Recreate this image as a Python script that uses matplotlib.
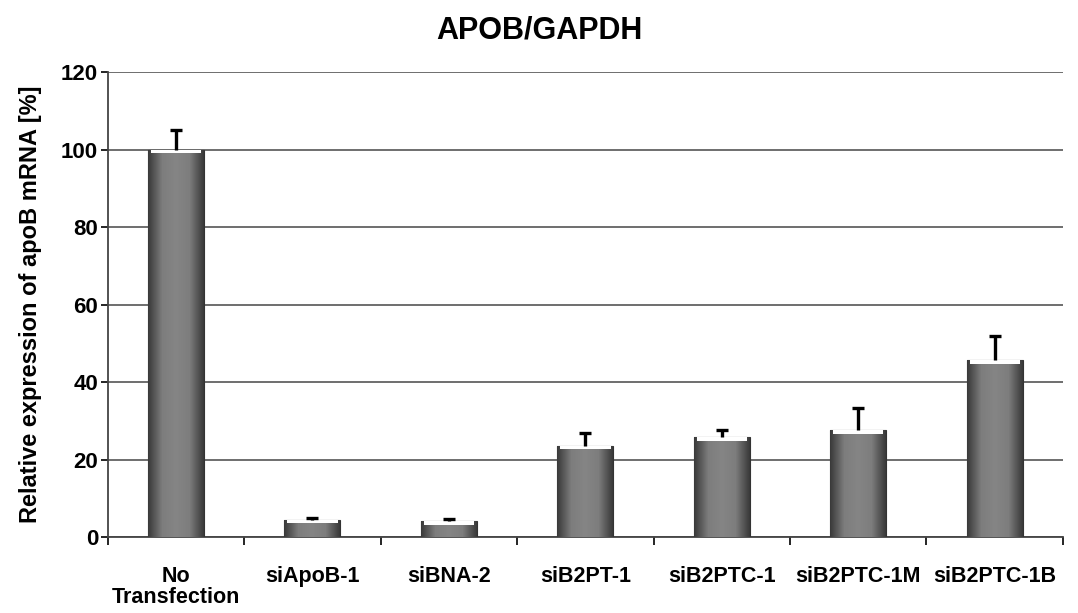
import numpy as np
import matplotlib.pyplot as plt
from matplotlib.colors import LinearSegmentedColormap

categories = ['No\nTransfection', 'siApoB-1', 'siBNA-2', 'siB2PT-1', 'siB2PTC-1', 'siB2PTC-1M', 'siB2PTC-1B']
values = [100, 4.4, 4.1, 23.5, 25.8, 27.6, 45.7]
errors = [5.0, 0.5, 0.6, 3.3, 1.8, 5.7, 6.3]
yticks = [0, 20, 40, 60, 80, 100, 120]

plt.rcParams['font.family'] = ['Liberation Sans', 'DejaVu Sans']
plt.rcParams['font.weight'] = 'bold'

fig = plt.figure(figsize=(10.78, 6.13), dpi=100)
ax = fig.add_axes([0.1, 0.124, 0.886, 0.758])

x = np.arange(len(categories))
barWidth = 0.41
bars = ax.bar(x, values, width=barWidth, color='#7a7a7a', edgecolor='#333333', linewidth=0.8, zorder=3)
# only the upper half of each error bar is shown
eb = ax.errorbar(x, values, yerr=[np.zeros(len(errors)), errors], fmt='none', ecolor='black',
                 elinewidth=2.4, capsize=4, capthick=2.4, zorder=4)
eb[1][0].set_visible(False)

# gradient fill per bar: darker edges, grey middle, white-ish top highlight
cmap = LinearSegmentedColormap.from_list('g', ['#3a3a3a', '#7d7d7d', '#858585', '#7d7d7d', '#3a3a3a'])
grad = np.tile(np.linspace(0, 1, 64), (64, 1))
for b in bars:
    bx, bw, bh = b.get_x(), b.get_width(), b.get_height()
    im = ax.imshow(grad, cmap=cmap, aspect='auto', extent=[bx, bx + bw, 0, bh], zorder=3.1)
    im.set_clip_path(b)
    ax.add_patch(plt.Rectangle((bx + bw * 0.05, bh - 0.9), bw * 0.9, 0.9, color='white', zorder=3.2,
                               linewidth=0))

ax.set_xlim(-0.5, len(categories) - 0.5)
ax.set_ylim(0, 120)
ax.set_yticks(yticks)
ax.tick_params(axis='y', labelsize=16, length=5, direction='out', width=1.2, pad=2)
ax.set_xticks(x)
ax.set_xticklabels(categories, fontsize=15.5, fontweight='bold', linespacing=1.0)
ax.tick_params(axis='x', length=0, pad=21)
ax.set_xticks(np.arange(len(categories) + 1) - 0.5, minor=True)
ax.tick_params(axis='x', which='minor', length=6, width=1.2, direction='out')
ax.yaxis.grid(True, color='#555555', linewidth=1.2, zorder=0)
ax.set_axisbelow(True)
for s in ['top', 'right']:
    ax.spines[s].set_visible(False)
ax.spines['left'].set_linewidth(1.3)
ax.spines['bottom'].set_linewidth(1.3)
ax.spines['left'].set_color('#444444')
ax.spines['bottom'].set_color('#444444')

ax.set_ylabel('Relative expression of apoB mRNA [%]', fontsize=17, fontweight='bold', labelpad=14)
fig.suptitle('APOB/GAPDH', fontsize=22, fontweight='bold', y=0.975)

plt.savefig('out.png', dpi=100)
